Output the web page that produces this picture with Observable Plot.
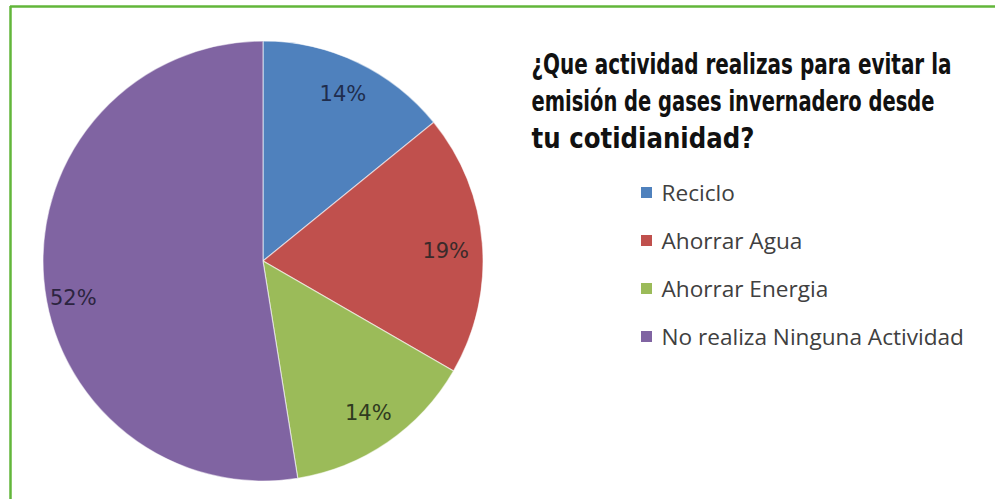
<!DOCTYPE html>
<html><head><meta charset="utf-8">
<script src="https://cdn.jsdelivr.net/npm/d3@7"></script>
<script src="https://cdn.jsdelivr.net/npm/@observablehq/plot@0.6"></script>
<style>body{margin:0;background:#fff;overflow:hidden}</style>
</head><body><div id="chart"></div>
<script>
// ---- data ----
const categories = ["Reciclo", "Ahorrar Agua", "Ahorrar Energia", "No realiza Ninguna Actividad"];
const values = [14, 19, 14, 52];
const labels = ["14%", "19%", "14%", "52%"];
const colors = ["#4f81bd", "#c0504d", "#9bbb59", "#8064a2"];
const titleLines = ["¿Que actividad realizas para evitar la", "emisión de gases invernadero desde", "tu cotidianidad?"];

// ---- layout ----
const W = 995, H = 499;
const cx = 263, cy = 261, R = 220;
const labelR = 0.84 * R;
const labelNudge = [[0, 0], [-2, 4], [0, 0], [-6, 22]];
const labelColors = ["#1f2d4d", "#3a2a2a", "#2f3a1f", "#2c2440"];
const titleWidths = [420, 403, 223];

const rows = categories.map((c, i) => ({category: c, value: values[i], label: labels[i], i}));
const arcs = d3.pie().value(d => d.value).sort(null)(rows);
const mid = a => (a.startAngle + a.endAngle) / 2;

function pieMark(index, scales) {
  const arc = d3.arc().innerRadius(0).outerRadius(R);
  const g = d3.create("svg:g").attr("transform", `translate(${cx},${cy})`);
  g.selectAll("path").data(arcs).join("path")
    .attr("d", arc)
    .attr("fill", d => scales.color(d.data.category))
    .attr("stroke", "#ffffff").attr("stroke-opacity", 0.55).attr("stroke-width", 1.2);
  return g.node();
}

const plot = Plot.plot({
  width: W, height: H,
  margin: 0,
  style: {background: "#fff", overflow: "visible"},
  x: {type: "identity", axis: null},
  y: {type: "identity", axis: null},
  color: {domain: categories, range: colors, legend: false},
  marks: [
    Plot.ruleY([6], {x1: 10, x2: W, stroke: "#62b63a", strokeWidth: 2.5}),
    Plot.ruleX([10], {y1: 6, y2: H, stroke: "#62b63a", strokeWidth: 2.5}),
    pieMark,
    Plot.text(arcs, {
      x: d => cx + Math.sin(mid(d)) * labelR + labelNudge[d.data.i][0],
      y: d => cy - Math.cos(mid(d)) * labelR + labelNudge[d.data.i][1],
      text: d => d.data.label,
      fill: d => labelColors[d.data.i],
      fontSize: 21, fontFamily: "DejaVu Sans", textAnchor: "middle"
    }),
    Plot.text(titleLines, {
      x: 531, y: (d, i) => 73 + i * 37, text: d => d,
      textAnchor: "start", lineAnchor: "bottom",
      fontSize: 29, fontWeight: "bold", fill: "#111",
      fontFamily: "'DejaVu Sans Condensed', sans-serif"
    }),
    Plot.rect(categories, {
      x1: 641, x2: 652, y1: (d, i) => 187 + i * 48, y2: (d, i) => 198 + i * 48,
      fill: d => d
    }),
    Plot.text(categories, {
      x: 661, y: (d, i) => 193 + i * 48, text: d => d,
      textAnchor: "start", fontSize: 22.6, fill: "#404040",
      fontFamily: "'Open Sans', sans-serif"
    })
  ]
});
// fit title lines to the reference's condensed widths
d3.select(plot).selectAll("text").each(function () {
  const k = titleLines.indexOf(this.textContent);
  if (k >= 0) {
    this.setAttribute("textLength", titleWidths[k]);
    this.setAttribute("lengthAdjust", "spacingAndGlyphs");
  }
});
document.getElementById("chart").appendChild(plot);
</script>
</body></html>
